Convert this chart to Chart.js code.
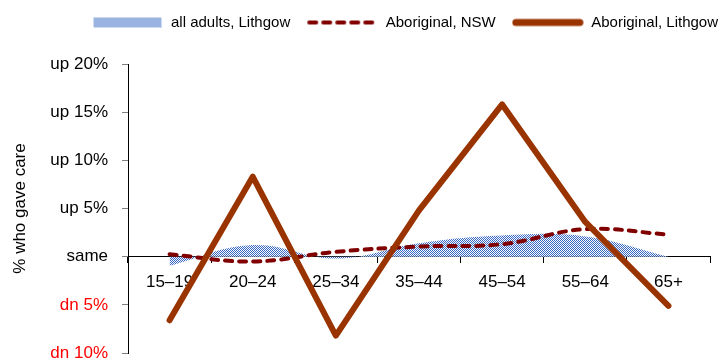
<!DOCTYPE html>
<html>
<head>
<meta charset="utf-8">
<script src="https://cdn.jsdelivr.net/npm/chart.js@4/dist/chart.umd.min.js"></script>
<style>
  html, body { margin: 0; padding: 0; background: #fff; }
  #wrap { width: 718px; height: 360px; }
</style>
</head>
<body>
<div id="wrap"><canvas id="careChart"></canvas></div>
<script>
"use strict";

// age groups
var ageGroups = [ "15–19", "20–24", "25–34", "35–44", "45–54", "55–64", "65+" ];

// change in % who gave care
var allAdultsLithgow = [ -0.95, 1.2, -0.2, 1.4, 2.2, 2.1, 0.0 ];
var aboriginalNSW = [ 0.25, -0.5, 0.5, 1.05, 1.3, 2.85, 2.3 ];
var aboriginalLithgow = [ -6.6, 8.3, -8.2, 4.8, 15.8, 3.6, -5.1 ];

// y tick labels
var tickValues = [ -10, -5, 0, 5, 10, 15, 20 ];
var tickLabels = [ "dn 10%", "dn 5%", "same", "up 5%", "up 10%", "up 15%", "up 20%" ];

var FONT = "'Liberation Sans', Arial, sans-serif";

// checkered blue fill
function makePattern() {
    var c = document.createElement( "canvas" );
    c.width = 2; c.height = 2;
    var g = c.getContext( "2d" );
    g.fillStyle = "#ffffff";
    g.fillRect( 0, 0, 2, 2 );
    g.fillStyle = "#3868c4";
    g.fillRect( 0, 0, 1, 1 );
    g.fillRect( 1, 1, 1, 1 );
    return g.createPattern( c, "repeat" );
}
var checker = makePattern();

// legend swatches
function swatch( kind ) {
    var c = document.createElement( "canvas" );
    c.width = 72; c.height = 14;
    var g = c.getContext( "2d" );
    if ( kind === "area" ) {
        g.fillStyle = checker;
        g.fillRect( 2, 2, 68, 10 );
    } else if ( kind === "dash" ) {
        g.strokeStyle = "#800000";
        g.lineWidth = 4;
        g.lineCap = "round";
        g.setLineDash( [ 7, 7 ] );
        g.beginPath(); g.moveTo( 3, 7 ); g.lineTo( 70, 7 ); g.stroke();
    } else {
        g.strokeStyle = "#993300";
        g.lineWidth = 7;
        g.lineCap = "round";
        g.beginPath(); g.moveTo( 4, 7 ); g.lineTo( 68, 7 ); g.stroke();
    }
    return c;
}
var swatches = [ swatch( "area" ), swatch( "dash" ), swatch( "solid" ) ];

// keep the legend band a fixed height so the plot starts lower
var legendBand = {
    id: 'legendBand',
    beforeLayout: function ( chart ) {
        var lg = chart.legend;
        if ( lg && !lg._banded ) {
            var fit = lg.fit;
            lg.fit = function () {
                fit.apply( this, arguments );
                this.height = 65;
            };
            lg._banded = true;
        }
    }
};

var ctx = document.getElementById( "careChart" );
var myChart = new Chart( ctx, {
    type: 'line',
    data: {
        labels: ageGroups,
        datasets: [
            {
                label: "all adults, Lithgow",
                data: allAdultsLithgow,
                backgroundColor: checker,
                borderWidth: 0,
                fill: 'origin',
                tension: 0.4,
                pointRadius: 0,
                order: 3
            },
            {
                label: "Aboriginal, NSW",
                data: aboriginalNSW,
                borderColor: "#800000",
                borderWidth: 4,
                borderDash: [ 7, 7 ],
                borderCapStyle: 'round',
                fill: false,
                tension: 0.4,
                pointRadius: 0,
                order: 2
            },
            {
                label: "Aboriginal, Lithgow",
                data: aboriginalLithgow,
                borderColor: "#993300",
                borderWidth: 6,
                borderCapStyle: 'round',
                borderJoinStyle: 'round',
                fill: false,
                tension: 0,
                pointRadius: 0,
                order: 1
            }
        ]
    },
    plugins: [ legendBand ],
    options: {
        responsive: true,
        maintainAspectRatio: false,
        animation: false,
        layout: {
            padding: { top: -1, right: -16, bottom: 0, left: 0 }
        },
        plugins: {
            tooltip: { enabled: false },
            legend: {
                position: 'top',
                align: 'end',
                labels: {
                    usePointStyle: true,
                    pointStyleWidth: 72,
                    padding: 16,
                    color: "#000",
                    font: { family: FONT, size: 15 },
                    generateLabels: function ( chart ) {
                        return chart.data.datasets.map( function ( ds, i ) {
                            return {
                                text: ds.label,
                                pointStyle: swatches[ i ],
                                datasetIndex: i,
                                fillStyle: "#fff",
                                strokeStyle: "#fff",
                                lineWidth: 0,
                                hidden: false
                            };
                        });
                    }
                }
            }
        },
        scales: {
            x: {
                position: { y: 0 },
                offset: true,
                grid: {
                    offset: true,
                    drawOnChartArea: false,
                    drawTicks: true,
                    tickLength: 6,
                    color: "#000"
                },
                border: { color: "#000", width: 1 },
                ticks: {
                    color: "#000",
                    padding: 9,
                    maxRotation: 0,
                    autoSkip: false,
                    font: { family: FONT, size: 17 }
                }
            },
            y: {
                min: -10,
                max: 20,
                afterBuildTicks: function ( scale ) {
                    scale.ticks = tickValues.map( function ( v ) { return { value: v }; } );
                },
                afterFit: function ( scale ) {
                    scale.width = 128;
                    scale.paddingTop = 0;
                    scale.paddingBottom = 7;
                    scale.paddingRight = 8;
                },
                grid: {
                    drawOnChartArea: false,
                    drawTicks: true,
                    tickLength: 6,
                    color: "#808080"
                },
                border: { color: "#000", width: 1 },
                ticks: {
                    padding: 14,
                    font: { family: FONT, size: 17 },
                    color: function ( c ) {
                        return c.tick && c.tick.value < 0 ? "#ff0000" : "#000";
                    },
                    callback: function ( value ) {
                        var i = tickValues.indexOf( value );
                        return i >= 0 ? tickLabels[ i ] : "";
                    }
                },
                title: {
                    display: true,
                    text: "% who gave care",
                    color: "#000",
                    font: { family: FONT, size: 17 },
                    padding: { top: 10, bottom: 0 }
                }
            }
        }
    }
});
</script>
</body>
</html>
